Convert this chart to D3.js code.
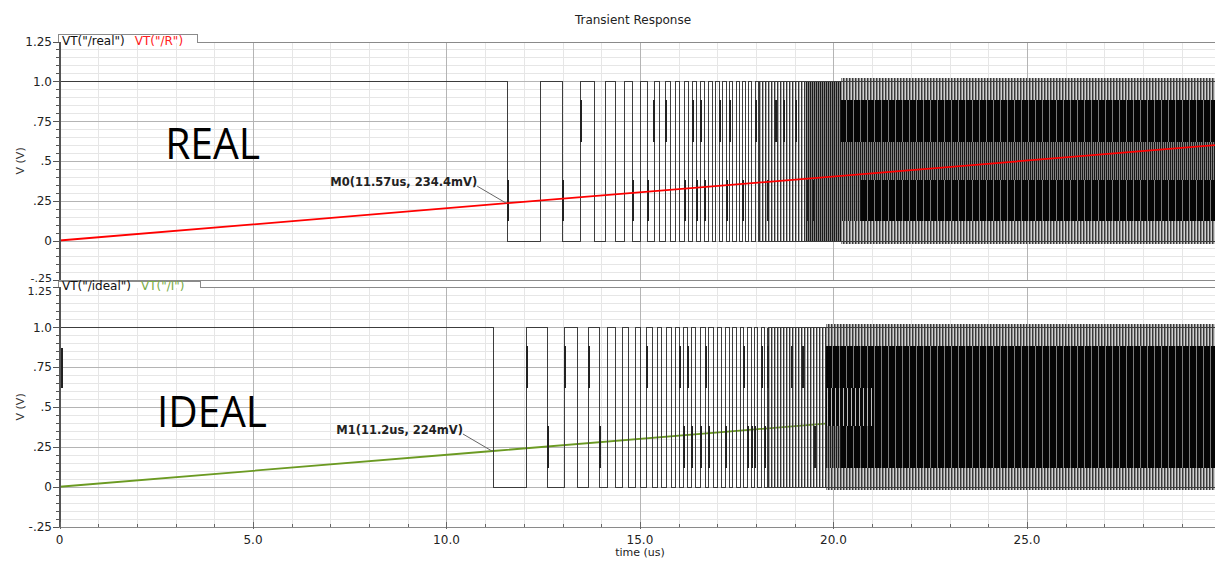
<!DOCTYPE html>
<html>
<head>
<meta charset="utf-8">
<script src="https://cdn.jsdelivr.net/npm/d3@7"></script>
<style>
	html, body { margin: 0; padding: 0; background: #fff; }
	svg { display: block; font-family: 'DejaVu Sans', sans-serif; }
</style>
</head>
<body>
<div id="canvas"></div>
<script>
/* global d3 */

// Axis ticks
var timeTicks = [0, 5, 10, 15, 20, 25],
	timeTickLabels = ['0', '5.0', '10.0', '15.0', '20.0', '25.0'],
	voltTicks = [-0.25, 0, 0.25, 0.5, 0.75, 1.0, 1.25],
	voltTickLabels = ['-.25', '0', '.25', '.5', '.75', '1.0', '1.25'];

// Toggle times (us) of the comparator outputs, starting high
var realEdges = [11.57, 12.41, 12.99, 13.44, 13.80, 14.09, 14.36, 14.59, 14.79, 14.99,
	15.17, 15.35, 15.49, 15.64, 15.77, 15.90, 16.02, 16.13, 16.25, 16.35,
	16.45, 16.56, 16.66, 16.75, 16.87, 16.95, 17.04, 17.13, 17.22, 17.30,
	17.39, 17.47, 17.56, 17.64, 17.72, 17.80, 17.88, 17.96, 18.04];
var idealEdges = [11.2, 12.05, 12.60, 13.03, 13.37, 13.67, 13.93, 14.14, 14.35, 14.53,
	14.70, 14.88, 15.01, 15.16, 15.30, 15.43, 15.55, 15.67, 15.79, 15.90,
	16.01, 16.12, 16.22, 16.32, 16.43, 16.54, 16.67, 16.77, 16.89, 16.99,
	17.09, 17.19, 17.30, 17.39, 17.49, 17.58, 17.67, 17.76, 17.86, 17.94,
	18.03, 18.12, 18.20, 18.28];

// Edges with a visible intermediate step: [t, vLow, vHigh]
var realSlow = [[11.57, 0.12, 0.38], [12.99, 0.12, 0.38], [13.44, 0.62, 0.88], [14.79, 0.12, 0.38],
	[15.17, 0.12, 0.38], [15.34, 0.62, 0.88], [15.64, 0.62, 0.88], [16.13, 0.12, 0.38],
	[16.35, 0.62, 0.88], [16.45, 0.12, 0.38], [16.56, 0.62, 0.88], [16.66, 0.12, 0.38],
	[17.04, 0.62, 0.88], [17.22, 0.12, 0.38], [17.30, 0.62, 0.88], [17.64, 0.12, 0.38],
	[17.96, 0.62, 0.88], [18.28, 0.12, 0.38], [18.49, 0.62, 0.88], [18.70, 0.62, 0.88],
	[19.0, 0.62, 0.88], [19.3, 0.12, 0.38], [19.45, 0.12, 0.38]];
var idealSlow = [[0.03, 0.62, 0.87], [12.05, 0.62, 0.88], [12.60, 0.12, 0.38], [13.03, 0.62, 0.88],
	[13.67, 0.62, 0.88], [13.93, 0.12, 0.38], [15.16, 0.62, 0.88], [16.01, 0.62, 0.88],
	[16.12, 0.12, 0.38], [16.22, 0.62, 0.88], [16.32, 0.12, 0.38], [16.54, 0.12, 0.38],
	[16.67, 0.62, 0.88], [16.77, 0.12, 0.38], [17.19, 0.12, 0.38], [17.67, 0.62, 0.88],
	[17.76, 0.12, 0.38], [17.86, 0.12, 0.38], [17.94, 0.12, 0.38], [18.12, 0.62, 0.88],
	[18.20, 0.12, 0.38], [18.28, 0.62, 0.88], [18.9, 0.62, 0.88], [19.2, 0.62, 0.88],
	[19.5, 0.12, 0.38]];

// Regions where toggling is finer than the display: [t0, t1, vLow, vHigh, kind]
var realDense = [
	[18.04, 19.3, 0, 1, 'hatch'],
	[19.3, 20.2, 0, 1, 'hatchDark'],
	[20.2, 29.86, 0.88, 1.02, 'fringe'],
	[20.2, 29.86, 0.62, 0.88, 'solid'],
	[20.2, 29.86, 0.38, 0.62, 'hatchDark'],
	[20.2, 20.7, 0.12, 0.38, 'hatchDark'],
	[20.7, 29.86, 0.12, 0.38, 'solid'],
	[20.2, 29.86, -0.02, 0.12, 'fringe']
];
var idealDense = [
	[18.28, 19.8, 0, 1, 'hatch'],
	[19.8, 29.86, 0.88, 1.02, 'fringe'],
	[19.8, 21.0, 0.62, 0.88, 'solid'],
	[19.8, 21.0, 0.38, 0.62, 'streaky'],
	[19.8, 20.2, 0.12, 0.38, 'hatchDark'],
	[20.2, 21.0, 0.12, 0.38, 'solid'],
	[21.0, 29.86, 0.12, 0.88, 'solid'],
	[19.8, 29.86, -0.02, 0.12, 'fringe']
];

// Ramp inputs [t, V]
var realRamp = [[0, 0], [11.57, 0.2344], [29.86, 0.599]],
	idealRamp = [[0, 0], [11.2, 0.224], [29.86, 0.597]];

document.addEventListener('DOMContentLoaded', function() {

	var width = 1215,
		height = 561,
		tMax = 29.86,
		waveColor = '#3c3c3c',
		svg = d3.select('#canvas').append('svg')
			.attr('width', width)
			.attr('height', height);

	svg.append('rect').attr('width', width).attr('height', height).attr('fill', '#fff');

	var xScale = d3.scaleLinear().domain([0, tMax]).range([59.5, 1215]);

	var panels = [
		{
			y: d3.scaleLinear().domain([-0.25, 1.25]).range([280.3, 41.5]),
			tab: 197, tabH: 8,
			waveName: 'VT("/real")', rampName: 'VT("/R")', rampColor: '#ff0000', rampText: '#ff2020',
			edges: realEdges, slow: realSlow, dense: realDense, ramp: realRamp, rampOnTop: true,
			marker: { t: 11.57, v: 0.2344, label: 'M0(11.57us, 234.4mV)' },
			big: { t: 2.73, v: 0.511, text: 'REAL', len: 95 },
			xAxis: false
		},
		{
			y: d3.scaleLinear().domain([-0.25, 1.25]).range([526.7, 287.1]),
			tab: 200, tabH: 6,
			waveName: 'VT("/ideal")', rampName: 'VT("/I")', rampColor: '#6b9a22', rampText: '#7aac45',
			edges: idealEdges, slow: idealSlow, dense: idealDense, ramp: idealRamp, rampOnTop: false,
			marker: { t: 11.2, v: 0.224, label: 'M1(11.2us, 224mV)' },
			big: { t: 2.52, v: 0.376, text: 'IDEAL', len: 110 },
			xAxis: true
		}
	];

	// Fill patterns for the dense regions
	var defs = svg.append('defs');
	function stripePattern(id, w, stripes) {
		var p = defs.append('pattern')
			.attr('id', id)
			.attr('patternUnits', 'userSpaceOnUse')
			.attr('width', w)
			.attr('height', 10);
		stripes.forEach(function(s) {
			p.append('rect').attr('x', s[0]).attr('y', 0)
				.attr('width', s[1]).attr('height', 10).attr('fill', s[2]);
		});
	}
	stripePattern('hatch', 3, [[0, 1, '#333'], [1, 1, 'rgba(110,110,110,0.55)']]);
	stripePattern('hatchDark', 2, [[0, 1, '#1a1a1a'], [1, 1, 'rgba(90,90,90,0.75)']]);
	stripePattern('solid', 7, [[0, 6, '#050505'], [6, 1, '#7a7a7a']]);
	stripePattern('streaky', 4, [[0, 3, '#0a0a0a'], [3, 1, '#bdbdbd']]);
	stripePattern('fringe', 3, [[0, 1, '#3a3a3a'], [1, 1, '#8a8a8a'], [2, 1, '#d0d0d0']]);

	var px = function(v) { return Math.round(v) + 0.5; };

	function wavePoints(edges) {
		var pts = [[0, 1]], level = 1;
		edges.forEach(function(t) {
			level = 1 - level;
			pts.push([t, level]);
		});
		return pts;
	}

	// Title
	svg.append('text')
		.attr('x', 633).attr('y', 24)
		.attr('text-anchor', 'middle')
		.attr('font-size', 12)
		.attr('fill', '#222')
		.text('Transient Response');

	panels.forEach(function(p, pi) {
		var y = p.y,
			g = svg.append('g'),
			x0 = xScale(0),
			x1 = width,
			yTop = y(1.25),
			yBot = y(-0.25);

		// Minor grid
		var gGrid = g.append('g').attr('shape-rendering', 'crispEdges');
		d3.range(1, 30).filter(function(t) { return t % 5 !== 0; }).forEach(function(t) {
			gGrid.append('line')
				.attr('x1', px(xScale(t))).attr('x2', px(xScale(t)))
				.attr('y1', yTop).attr('y2', yBot)
				.attr('stroke', '#e6e6e6');
		});
		d3.range(-5, 26).filter(function(i) { return i % 5 !== 0; }).forEach(function(i) {
			gGrid.append('line')
				.attr('x1', x0).attr('x2', x1)
				.attr('y1', px(y(i * 0.05))).attr('y2', px(y(i * 0.05)))
				.attr('stroke', '#e6e6e6');
		});
		// Major grid
		timeTicks.slice(1).forEach(function(t) {
			gGrid.append('line')
				.attr('x1', px(xScale(t))).attr('x2', px(xScale(t)))
				.attr('y1', yTop).attr('y2', yBot)
				.attr('stroke', '#b4b4b4');
		});
		voltTicks.slice(1, -1).forEach(function(v) {
			gGrid.append('line')
				.attr('x1', x0).attr('x2', x1)
				.attr('y1', px(y(v))).attr('y2', px(y(v)))
				.attr('stroke', '#b4b4b4');
		});

		// Big annotation
		g.append('text')
			.attr('x', xScale(p.big.t)).attr('y', y(p.big.v))
			.attr('font-family', "'Open Sans', sans-serif")
			.attr('font-size', 43)
			.attr('textLength', p.big.len)
			.attr('lengthAdjust', 'spacingAndGlyphs')
			.attr('fill', '#000')
			.text(p.big.text);

		var ramp = d3.line()
			.x(function(d) { return xScale(d[0]); })
			.y(function(d) { return y(d[1]); });

		function drawRamp() {
			g.append('path')
				.datum(p.ramp)
				.attr('d', ramp)
				.attr('fill', 'none')
				.attr('stroke', p.rampColor)
				.attr('stroke-width', 1.8);
		}
		if (!p.rampOnTop) drawRamp();

		// Square wave
		var gWave = g.append('g').attr('shape-rendering', 'crispEdges');
		var step = d3.line()
			.curve(d3.curveStepAfter)
			.x(function(d) { return px(xScale(d[0])); })
			.y(function(d) { return px(y(d[1])); });
		gWave.append('path')
			.datum(wavePoints(p.edges))
			.attr('d', step)
			.attr('fill', 'none')
			.attr('stroke', waveColor)
			.attr('stroke-width', 1);

		// Dense toggling regions
		gWave.selectAll('rect.dense')
			.data(p.dense)
			.enter()
			.append('rect')
			.attr('class', 'dense')
			.attr('x', function(d) { return Math.round(xScale(d[0])); })
			.attr('width', function(d) { return Math.round(xScale(d[1])) - Math.round(xScale(d[0])); })
			.attr('y', function(d) { return Math.round(y(d[3])); })
			.attr('height', function(d) { return Math.round(y(d[2])) - Math.round(y(d[3])); })
			.attr('fill', function(d) { return 'url(#' + d[4] + ')'; });

		// Both levels continue through the dense region
		var lastEdge = p.edges[p.edges.length - 1];
		[0, 1].forEach(function(v) {
			gWave.append('line')
				.attr('x1', px(xScale(lastEdge))).attr('x2', x1)
				.attr('y1', px(y(v))).attr('y2', px(y(v)))
				.attr('stroke', waveColor);
		});

		// Slow edge steps
		gWave.selectAll('line.slow')
			.data(p.slow)
			.enter()
			.append('line')
			.attr('class', 'slow')
			.attr('x1', function(d) { return Math.round(xScale(d[0])) + 1; })
			.attr('x2', function(d) { return Math.round(xScale(d[0])) + 1; })
			.attr('y1', function(d) { return y(d[1]); })
			.attr('y2', function(d) { return y(d[2]); })
			.attr('stroke', '#222')
			.attr('stroke-width', 2);

		if (p.rampOnTop) drawRamp();

		// Marker
		var mx = xScale(p.marker.t), my = y(p.marker.v);
		g.append('line')
			.attr('x1', mx - 30).attr('y1', my - 17)
			.attr('x2', mx - 1).attr('y2', my)
			.attr('stroke', '#666');
		g.append('text')
			.attr('x', mx - 30).attr('y', my - 17)
			.attr('text-anchor', 'end')
			.attr('font-size', 11.5)
			.attr('font-weight', 'bold')
			.attr('fill', '#222')
			.text(p.marker.label);

		// Frame
		var gFrame = g.append('g').attr('shape-rendering', 'crispEdges');
		gFrame.append('line')
			.attr('x1', p.tab).attr('x2', x1)
			.attr('y1', px(yTop)).attr('y2', px(yTop))
			.attr('stroke', '#8a8a8a');
		gFrame.append('line')
			.attr('x1', 58).attr('x2', x1)
			.attr('y1', px(yBot)).attr('y2', px(yBot))
			.attr('stroke', '#8a8a8a');
		gFrame.append('path')
			.attr('d', 'M58.5,' + px(yTop) + 'V' + (px(yTop) - p.tabH) + 'H' + (p.tab + 0.5) + 'V' + px(yTop))
			.attr('fill', '#fff')
			.attr('stroke', '#8a8a8a');
		gFrame.append('line')
			.attr('x1', 59.5).attr('x2', 59.5)
			.attr('y1', yTop).attr('y2', yBot)
			.attr('stroke', '#555')
			.attr('stroke-width', 2);

		// Legend tab
		var leg = g.append('text')
			.attr('x', 62).attr('y', px(yTop) + 2.5)
			.attr('font-size', 12);
		leg.append('tspan').attr('fill', '#111').text(p.waveName);
		leg.append('tspan').attr('dx', 10).attr('fill', p.rampText).text(p.rampName);

		// Y axis ticks
		d3.range(-5, 26).forEach(function(i) {
			var major = i % 5 === 0;
			gFrame.append('line')
				.attr('x1', major ? 53 : 56).attr('x2', 59)
				.attr('y1', px(y(i * 0.05))).attr('y2', px(y(i * 0.05)))
				.attr('stroke', '#555');
		});
		// the two panels' end labels sit close together, nudge them apart
		var nudge = function(d) {
			if (pi === 0 && d === -0.25) return -3;
			if (pi === 1 && d === 1.25) return 3;
			return 0;
		};
		g.selectAll('text.ytick')
			.data(voltTicks)
			.enter()
			.append('text')
			.attr('class', 'ytick')
			.attr('x', 52)
			.attr('y', function(d) { return y(d) + 4.5 + nudge(d); })
			.attr('text-anchor', 'end')
			.attr('font-size', function(d) { return nudge(d) ? 11 : 12; })
			.attr('fill', '#222')
			.text(function(d, i) { return voltTickLabels[i]; });

		g.append('text')
			.attr('transform', 'translate(24,' + y(0.5) + ') rotate(-90)')
			.attr('text-anchor', 'middle')
			.attr('font-size', 11)
			.attr('fill', '#333')
			.text('V (V)');

		// X axis
		if (p.xAxis) {
			d3.range(0, 30).forEach(function(t) {
				var major = t % 5 === 0;
				gFrame.append('line')
					.attr('x1', px(xScale(t))).attr('x2', px(xScale(t)))
					.attr('y1', yBot - (major ? 5 : 3)).attr('y2', yBot + (major ? 2 : 0))
					.attr('stroke', '#666');
			});
			g.selectAll('text.xtick')
				.data(timeTicks)
				.enter()
				.append('text')
				.attr('class', 'xtick')
				.attr('x', function(d) { return xScale(d); })
				.attr('y', 544)
				.attr('text-anchor', 'middle')
				.attr('font-size', 12)
				.attr('fill', '#222')
				.text(function(d, i) { return timeTickLabels[i]; });
			g.append('text')
				.attr('x', xScale(15))
				.attr('y', 556)
				.attr('text-anchor', 'middle')
				.attr('font-size', 11)
				.attr('fill', '#222')
				.text('time (us)');
		}
	});

});
</script>
</body>
</html>
